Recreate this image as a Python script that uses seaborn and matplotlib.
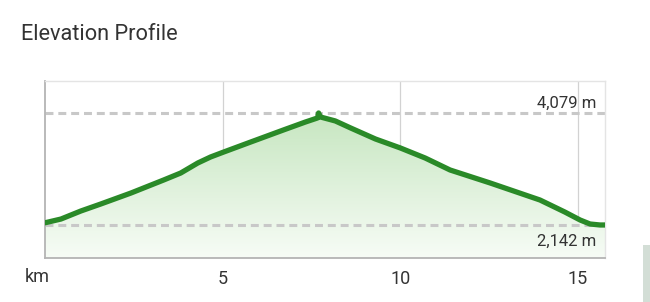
import numpy as np
import pandas as pd
import matplotlib
matplotlib.use("Agg")
import matplotlib.pyplot as plt
import seaborn as sns
from matplotlib.patches import Rectangle
from matplotlib.colors import LinearSegmentedColormap

# ---- data ----
km = [0.0, 0.45, 1.01, 1.57, 2.42, 3.34, 3.82, 4.30, 4.66, 5.03, 5.79, 6.71,
      7.33, 7.67, 7.70, 7.75, 8.17, 8.60, 9.30, 10.0, 10.70, 11.40, 12.53,
      13.93, 14.63, 15.06, 15.34, 15.62, 15.76]
elevation = [2180, 2245, 2384, 2505, 2695, 2920, 3041, 3214, 3318, 3404, 3577, 3785,
             3923, 3993, 4079, 4010, 3941, 3820, 3629, 3474, 3300, 3093, 2868,
             2574, 2366, 2228, 2159, 2142, 2142]
ref_levels = [4079, 2142]
ref_labels = ["4,079 m", "2,142 m"]
xticks = [5, 10, 15]
xtick_labels = ["5", "10", "15"]
title = "Elevation Profile"

df = pd.DataFrame({"km": km, "elevation": elevation})

sns.set_theme(style="white")
plt.rcParams['font.family'] = ['Roboto', 'DejaVu Sans']

fig = plt.figure(figsize=(6.5, 3.02), dpi=100)
ax = fig.add_axes([45/650, 1-258/302, 560/650, 177/302])

xmax = 15.76
ymin, ymax = 1571, 4632
ax.set_xlim(0, xmax)
ax.set_ylim(ymin, ymax)

# gradient fill under curve
poly = ax.fill_between(df["km"], df["elevation"], ymin, color="none", lw=0)
cmap = LinearSegmentedColormap.from_list("g", ["#f7fcf6", "#c6e6c0"])
grad = np.linspace(0, 1, 256).reshape(-1, 1)
im = ax.imshow(grad, extent=[0, xmax, ymin, 4079], origin="lower", aspect="auto",
               cmap=cmap, zorder=1)
path = poly.get_paths()[0]
im.set_clip_path(path, transform=ax.transData)

# vertical grid
for xt in xticks:
    ax.axvline(xt, color="#d2d2d2", lw=0.9, zorder=0.5)

# dashed reference lines
for lv in ref_levels:
    ax.axhline(lv, color="#c8c8c8", lw=2.2, dashes=(2.6, 1.6), zorder=2)

sns.lineplot(data=df, x="km", y="elevation", ax=ax, color="#2a8a28", lw=3.8,
             zorder=3, solid_joinstyle="round")

ax.text(0.984, (ref_levels[0] - ymin) / (ymax - ymin) + 0.055, ref_labels[0],
        transform=ax.transAxes, ha="right", va="center", fontsize=12, color="#333333")
ax.text(0.984, (ref_levels[1] - ymin) / (ymax - ymin) - 0.095, ref_labels[1],
        transform=ax.transAxes, ha="right", va="center", fontsize=12, color="#333333")

ax.set_xticks(xticks)
ax.set_xticklabels(xtick_labels)
ax.set_yticks([])
ax.tick_params(axis="x", length=0, pad=9, labelsize=13, labelcolor="#333333")
ax.text(-0.014, -0.11, "km", transform=ax.transAxes, ha="center", va="center",
        fontsize=13, color="#333333")
ax.set_xlabel("")
ax.set_ylabel("")

for side in ["left", "bottom"]:
    ax.spines[side].set_color("#b4b4b4")
    ax.spines[side].set_linewidth(1.3)
for side in ["top", "right"]:
    ax.spines[side].set_color("#e4e4e4")
    ax.spines[side].set_linewidth(1.0)

fig.text(21/650, 1-35/302, title, ha="left", va="center", fontsize=15.7, color="#333333")

fig.patches.append(Rectangle((643/650, 0), 7/650, 57/302, transform=fig.transFigure,
                             facecolor="#d3ded6", edgecolor="none"))

fig.savefig("out.png", dpi=100, facecolor="white")
